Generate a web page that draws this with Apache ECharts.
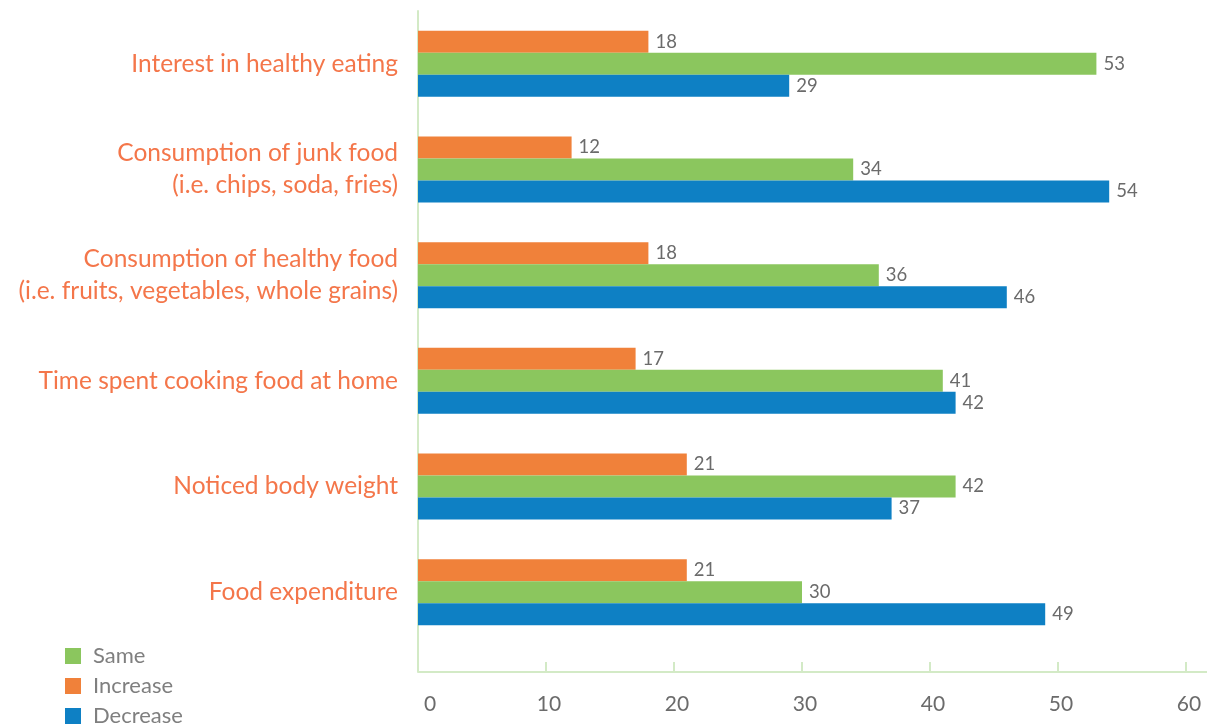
<!DOCTYPE html>
<html>
<head>
<meta charset="utf-8">
<script src="https://cdn.jsdelivr.net/npm/echarts@6/dist/echarts.min.js"></script>
<style>
  html, body { margin: 0; padding: 0; background: #ffffff; }
  #chart { width: 1207px; height: 726px; }
</style>
</head>
<body>
<div id="chart"></div>
<script>
// Survey topics, top to bottom
const categories = [
  'Interest in healthy eating',
  'Consumption of junk food\n(i.e. chips, soda, fries)',
  'Consumption of healthy food\n(i.e. fruits, vegetables, whole grains)',
  'Time spent cooking food at home',
  'Noticed body weight',
  'Food expenditure'
];

// Share of respondents (%) per answer
const increaseValues = [18, 12, 18, 17, 21, 21];
const sameValues     = [53, 34, 36, 41, 42, 30];
const decreaseValues = [29, 54, 46, 42, 37, 49];

const xTicks = [0, 10, 20, 30, 40, 50, 60];
const legendOrder = ['Same', 'Increase', 'Decrease'];

const COLORS = { increase: '#f0813a', same: '#8bc65e', decrease: '#0e80c4' };
const AXIS_COLOR = '#d3eac6';
const LABEL_FONT = 'Lato, "Open Sans", sans-serif';

const chart = echarts.init(document.getElementById('chart'), null, { renderer: 'canvas' });

function barSeries(name, data, color) {
  return {
    name: name,
    type: 'bar',
    data: data,
    barWidth: 22,
    barGap: '0%',
    itemStyle: { color: color },
    label: {
      show: true,
      position: 'right',
      distance: 7,
      color: '#6b6b6b',
      fontSize: 18.5,
      fontFamily: LABEL_FONT
    }
  };
}

// One single-item legend per row, stacked in the lower-left corner
const legends = legendOrder.map(function (name, i) {
  return {
    orient: 'vertical',
    left: 65,
    top: 645 + i * 30,
    padding: 0,
    icon: 'rect',
    itemWidth: 16,
    itemHeight: 16,
    data: [name],
    textStyle: { color: '#7f7f7f', fontSize: 22, fontFamily: LABEL_FONT, padding: [0, 0, 0, 7] }
  };
});

chart.setOption({
  animation: false,
  backgroundColor: '#ffffff',
  grid: { left: 418, right: 21, top: 11, bottom: 81, containLabel: false },
  legend: legends,
  xAxis: {
    type: 'value',
    min: xTicks[0],
    max: xTicks[xTicks.length - 1],
    interval: 10,
    offset: 27,
    axisLine: { show: true, lineStyle: { color: AXIS_COLOR, width: 2 } },
    axisTick: { show: true, inside: true, length: 10, lineStyle: { color: AXIS_COLOR, width: 2 } },
    splitLine: { show: false },
    axisLabel: {
      color: '#6b6b6b',
      fontSize: 21,
      fontFamily: LABEL_FONT,
      margin: 22,
      formatter: function (v) {
        if (xTicks.indexOf(v) < 0) return '';
        return v === 0 ? '{zero|0}' : '{t|' + v + '}';
      },
      rich: {
        zero: { fontSize: 21, fontFamily: LABEL_FONT, color: '#6b6b6b', padding: [0, 0, 0, 24] },
        t: { fontSize: 21, fontFamily: LABEL_FONT, color: '#6b6b6b', padding: [0, 0, 0, 6] }
      }
    }
  },
  yAxis: {
    type: 'category',
    inverse: true,
    data: categories,
    axisLine: { show: true, lineStyle: { color: AXIS_COLOR, width: 2 } },
    axisTick: { show: false },
    axisLabel: {
      color: '#f4764a',
      fontSize: 24.5,
      lineHeight: 32,
      fontFamily: LABEL_FONT,
      align: 'right',
      margin: 20
    }
  },
  series: [
    barSeries('Increase', increaseValues, COLORS.increase),
    barSeries('Same', sameValues, COLORS.same),
    barSeries('Decrease', decreaseValues, COLORS.decrease)
  ]
});

// Join the category axis line down to the offset value axis
const gridBottom = 726 - 81;
chart.setOption({
  graphic: [
    {
      type: 'line',
      shape: { x1: 418, y1: gridBottom, x2: 418, y2: gridBottom + 27 },
      style: { stroke: AXIS_COLOR, lineWidth: 2 },
      z: 10
    },
    {
      type: 'line',
      shape: { x1: 1186, y1: gridBottom + 27, x2: 1207, y2: gridBottom + 27 },
      style: { stroke: AXIS_COLOR, lineWidth: 2 },
      z: 10
    }
  ]
});
</script>
</body>
</html>
